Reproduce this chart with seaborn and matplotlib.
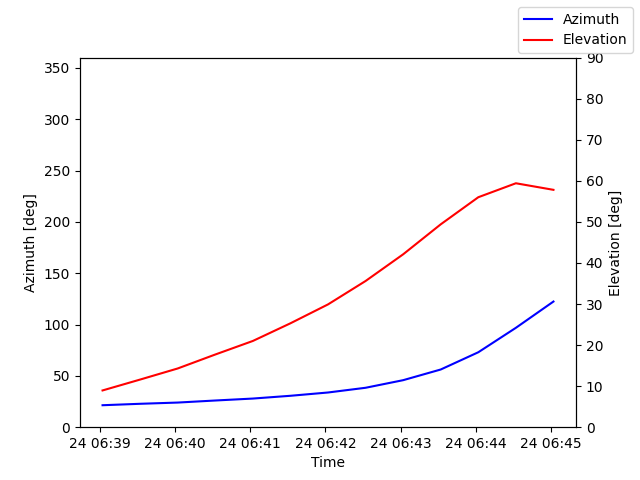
import pandas as pd
import seaborn as sns
import matplotlib.pyplot as plt

# pass samples, every 30 s
times = pd.date_range("2023-05-24 06:39:02", periods=13, freq="30s")
azimuth = [21.4, 22.8, 24.0, 26.0, 27.9, 30.6, 33.8, 38.4, 45.8, 56.2, 73.0, 96.8, 122.4]
elevation = [8.95, 11.6, 14.3, 17.7, 21.0, 25.3, 29.9, 35.6, 42.1, 49.4, 56.0, 59.4, 57.8]

fig, ax1 = plt.subplots(figsize=(6.4, 4.8), dpi=100)
ax2 = ax1.twinx()

sns.lineplot(x=times, y=azimuth, color="blue", ax=ax1, label="Azimuth", legend=False)
sns.lineplot(x=times, y=elevation, color="red", ax=ax2, label="Elevation", legend=False)

ax1.set_ylim(0, 360)
ax2.set_ylim(0, 90)
ax1.set_xlabel("Time")
ax1.set_ylabel("Azimuth [deg]")
ax2.set_ylabel("Elevation [deg]")

h1, l1 = ax1.get_legend_handles_labels()
h2, l2 = ax2.get_legend_handles_labels()
fig.legend(h1 + h2, l1 + l2, loc="upper right")

fig.savefig("out.png", dpi=100)
